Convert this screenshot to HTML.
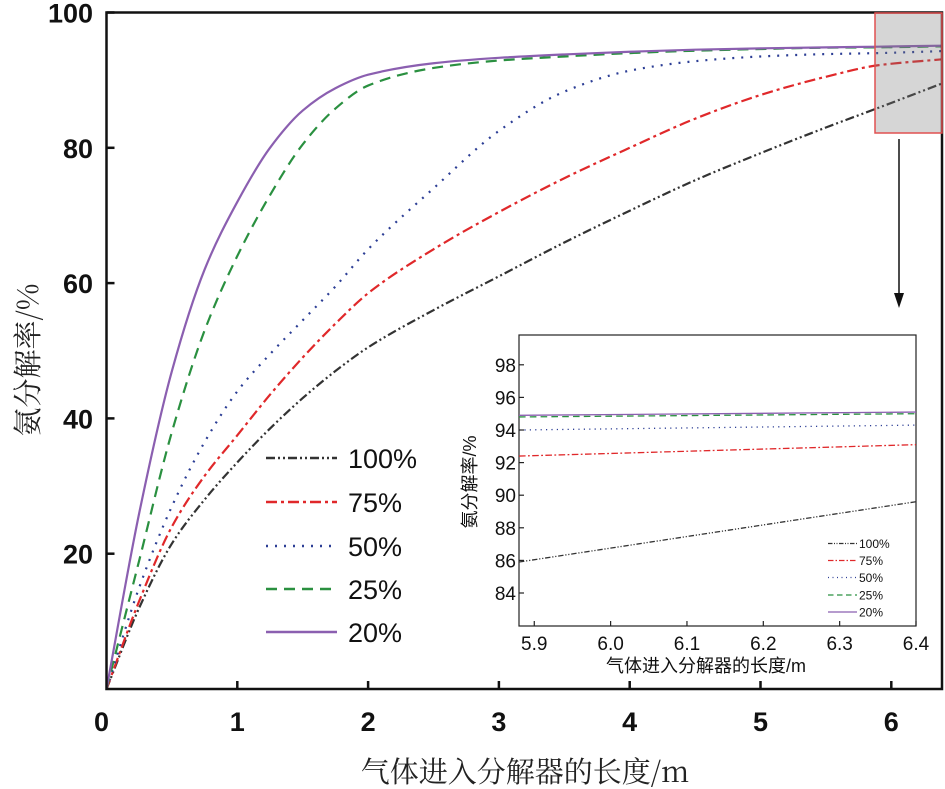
<!DOCTYPE html>
<html><head><meta charset="utf-8"><style>
html,body{margin:0;padding:0;background:#fff;}
svg{display:block;}
text{font-family:"Liberation Sans","Noto Sans CJK SC",sans-serif;}
.cjk{font-family:"Noto Serif CJK SC","Liberation Serif",serif;}
</style></head><body>
<svg id="chart" width="945" height="789" xmlns="http://www.w3.org/2000/svg"></svg>
<script>
// ---- main chart data ----
const xs = [0,0.25,0.5,0.75,1,1.25,1.5,1.75,2,2.5,3,3.5,4,4.5,5,5.5,5.9,6.4];
const s20 = [0,26,47,62,72,80,85.5,88.8,90.8,92.5,93.3,93.8,94.2,94.5,94.7,94.85,94.95,95.1];
const s25 = [0,19,38,53,64,73,80.5,85.8,89.2,91.8,92.9,93.5,94,94.35,94.6,94.8,94.85,95.0];
const s50 = [0,15,27,36.5,44,49.5,54.5,59.5,65,74,82.5,88.3,91.4,92.8,93.5,93.85,94.0,94.3];
const s75 = [0,13,24,31.5,37.5,43.5,49,54,58.5,65,70.5,75.5,80,84.3,87.8,90.5,92.2,93.1];
const s100 = [0,12,21.5,28,33.5,38.5,43,47,50.5,56,61,66,70.7,75.2,79.2,83,85.9,89.6];
const seriesNames = ["100%","75%","50%","25%","20%"];
const xTicks = [0,1,2,3,4,5,6];
const yTicks = [20,40,60,80,100];
// ---- inset data ----
const xsIn = [5.88,6.4];
const in20 = [94.9,95.1];
const in25 = [94.8,95.0];
const in50 = [94.0,94.3];
const in75 = [92.4,93.1];
const in100 = [85.9,89.6];
const xTicksIn = [5.9,6.0,6.1,6.2,6.3,6.4];
const yTicksIn = [84,86,88,90,92,94,96,98];

const NS="http://www.w3.org/2000/svg";
const svg=document.getElementById('chart');
function el(tag,attrs,parent){const e=document.createElementNS(NS,tag);for(const k in attrs)e.setAttribute(k,attrs[k]);(parent||svg).appendChild(e);return e;}
// monotone cubic (Fritsch-Carlson)
function pathFrom(pts){
  const n=pts.length,dx=[],m=[],t=[];
  for(let i=0;i<n-1;i++){dx[i]=pts[i+1][0]-pts[i][0];m[i]=(pts[i+1][1]-pts[i][1])/dx[i];}
  t[0]=m[0];t[n-1]=m[n-2];
  for(let i=1;i<n-1;i++){t[i]=(m[i-1]*m[i]<=0)?0:(dx[i-1]+dx[i])*3/((2*dx[i]+dx[i-1])/m[i-1]+(dx[i]+2*dx[i-1])/m[i]);}
  let d="M"+pts[0][0]+","+pts[0][1];
  for(let i=0;i<n-1;i++){
    const h=dx[i]/3;
    d+=" C"+(pts[i][0]+h)+","+(pts[i][1]+t[i]*h)+" "+(pts[i+1][0]-h)+","+(pts[i+1][1]-t[i+1]*h)+" "+pts[i+1][0]+","+pts[i+1][1];
  }
  return d;
}
const styles=[
 {c:"#333333",dash:"9 3 2 3 2 3",w:2.2},
 {c:"#e0282a",dash:"11 4 3 4",w:2.2},
 {c:"#2c3e95",dash:"2 7",w:2.2},
 {c:"#2a9040",dash:"11 7",w:2.2},
 {c:"#8b5fb0",dash:"",w:2.2}
];

// ---- main axes ----
const X0=106.5,XU=130.8,Y0=689,YU=6.765;
const sx=v=>X0+v*XU, sy=v=>Y0-v*YU;
const mainData=[s100,s75,s50,s25,s20];
const cp=el('clipPath',{id:'mclip'});
el('rect',{x:X0,y:12,width:942-X0,height:Y0-12},cp);
mainData.forEach((arr,i)=>{
  const pts=xs.map((x,j)=>[sx(x),sy(arr[j])]);
  const p=el('path',{d:pathFrom(pts),fill:'none',stroke:styles[i].c,'stroke-width':styles[i].w,'stroke-dasharray':styles[i].dash,'clip-path':'url(#mclip)'});
  
  
});
const fr=el('rect',{x:X0,y:12.5,width:942-X0,height:Y0-12.5,fill:'none',stroke:'#111','stroke-width':2.5});


xTicks.forEach(t=>{
  if(t>0){const tk=el('line',{x1:sx(t),x2:sx(t),y1:Y0,y2:Y0-8,stroke:'#111','stroke-width':2.5});
  
  }
  const tx=el('text',{x:sx(t)+(t==0?-5:0),y:731,'font-size':27,'font-weight':'bold','text-anchor':'middle',fill:'#111'});tx.textContent=t;
  
  
});
yTicks.forEach(t=>{
  const tk=el('line',{x1:X0,x2:X0+8,y1:sy(t),y2:sy(t),stroke:'#111','stroke-width':2.5});
  
  
  const tx=el('text',{x:93,y:sy(t)+10,'font-size':27,'font-weight':'bold','text-anchor':'end',fill:'#111'});tx.textContent=t;
  
  
});
const xt=el('text',{x:525,y:782,'font-size':29,'text-anchor':'middle',fill:'#222',class:'cjk'});xt.textContent='气体进入分解器的长度/m';


const yt=el('text',{x:0,y:0,'font-size':29,'text-anchor':'middle',fill:'#222',class:'cjk',transform:'translate(38,360) rotate(-90)'});yt.textContent='氨分解率/%';


const legY=[458,502,546,589,632];
legY.forEach((y,i)=>{
  const ln=el('line',{x1:266,x2:337,y1:y,y2:y,stroke:styles[i].c,'stroke-width':2.5,'stroke-dasharray':styles[i].dash});
  
  
  const tx=el('text',{x:348,y:y+10,'font-size':27,fill:'#111'});tx.textContent=seriesNames[i];
  
  
});
const zb=el('rect',{x:875,y:13,width:67,height:120,fill:'rgba(120,120,120,0.3)',stroke:'#e05050','stroke-width':1.5});


const ar=el('line',{x1:899,x2:899,y1:139,y2:296,stroke:'#111','stroke-width':1.5});


const ah=el('polygon',{points:'894,293 904,293 899,308',fill:'#111'});



// ---- inset ----
const IL=519,IR=916,IT=335,IB=626;
const ix=v=>IL+(v-5.88)*(IR-IL)/(6.4-5.88);
const iy=v=>593+(84-v)*16.3;
const ibg=el('rect',{x:IL,y:IT,width:IR-IL,height:IB-IT,fill:'#fff',stroke:'#222','stroke-width':1.2});


const inData=[in100,in75,in50,in25,in20];
inData.forEach((arr,i)=>{
  const pts=xsIn.map((x,j)=>ix(x)+","+iy(arr[j])).join(" ");
  const p=el('polyline',{points:pts,fill:'none',stroke:styles[i].c,'stroke-width':1.3,'stroke-dasharray':styles[i].dash.split(' ').map(n=>n*0.6).join(' ')});
  
  
});
yTicksIn.forEach(t=>{
  const tk=el('line',{x1:IL,x2:IL+5,y1:iy(t),y2:iy(t),stroke:'#222','stroke-width':1.2});
  
  
  const tx=el('text',{x:IL-3,y:iy(t)+7,'font-size':19,'text-anchor':'end',fill:'#111'});tx.textContent=t;
  
  
});
xTicksIn.forEach(t=>{
  const tk=el('line',{x1:ix(t),x2:ix(t),y1:IB,y2:IB-5,stroke:'#222','stroke-width':1.2});
  
  
  const tx=el('text',{x:ix(t),y:IB+24,'font-size':19,'text-anchor':'middle',fill:'#111'});tx.textContent=t.toFixed(1);
  
  
});
const ixt=el('text',{x:706,y:672,'font-size':18,'text-anchor':'middle',fill:'#111'});ixt.textContent='气体进入分解器的长度/m';


const iyt=el('text',{x:0,y:0,'font-size':18,'text-anchor':'middle',fill:'#111',transform:'translate(476,482) rotate(-90)'});iyt.textContent='氨分解率/%';


const ilY=[543.5,560.5,577.5,595,612];
ilY.forEach((y,i)=>{
  const ln=el('line',{x1:828,x2:857,y1:y,y2:y,stroke:styles[i].c,'stroke-width':1.2,'stroke-dasharray':styles[i].dash.split(' ').map(n=>n*0.5).join(' ')});
  
  
  const tx=el('text',{x:859,y:y+4.5,'font-size':12,fill:'#111'});tx.textContent=seriesNames[i];
  
  
});
</script>
</body></html>
